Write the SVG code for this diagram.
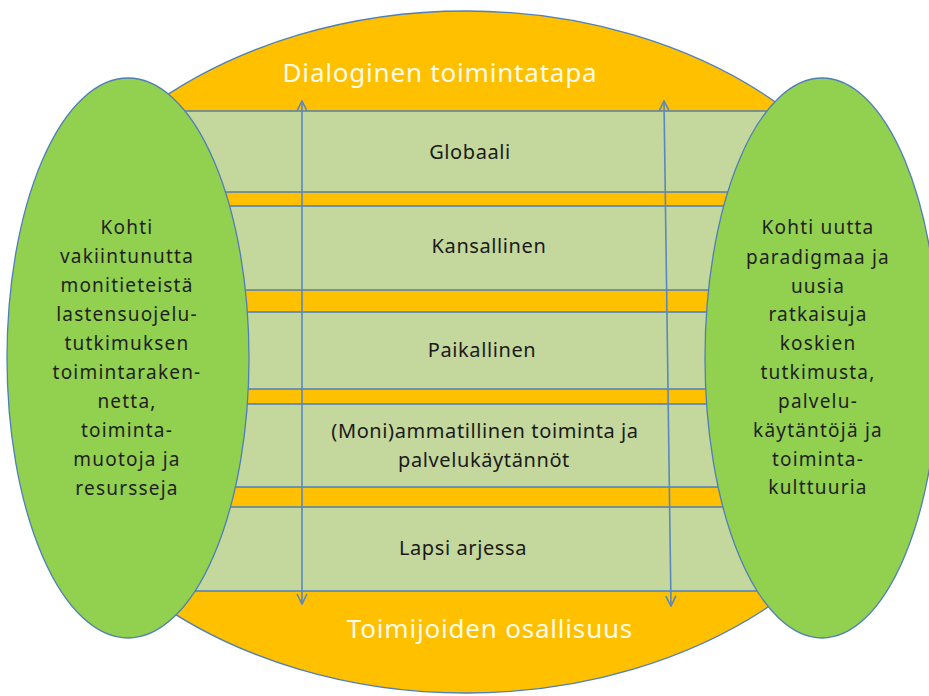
<svg xmlns="http://www.w3.org/2000/svg" width="929" height="696" viewBox="0 0 929 696">
<style>
.outer{fill:#ffc000;stroke:#4f7fb8;stroke-width:1.3}
.band{fill:#c4d79c;stroke:#4f7fb8;stroke-width:1.5}
.side{fill:#92d050;stroke:#4f7fb8;stroke-width:1.3}
.arr{stroke:#5a87bd;stroke-width:1.6;fill:none;marker-start:url(#ah);marker-end:url(#ah)}
.title{font-family:"Noto Sans",sans-serif;font-size:26px;fill:#fffbe8;text-anchor:middle;letter-spacing:0.8px}
.lbl{font-family:"Noto Sans",sans-serif;font-size:20px;fill:#1a1a1a;text-anchor:middle;letter-spacing:0.6px}
.side-t{font-family:"Noto Sans",sans-serif;font-size:19px;fill:#1f1f1f;text-anchor:middle;letter-spacing:1.2px}
</style>
<defs>
<marker id="ah" viewBox="0 0 12 12" refX="11" refY="6" markerWidth="12" markerHeight="12" markerUnits="userSpaceOnUse" orient="auto-start-reverse">
<path d="M1,1 L11,6 L1,11" fill="none" stroke="#5a87bd" stroke-width="1.6"/>
</marker>
</defs>
<rect width="929" height="696" fill="#ffffff"/>
<g id="outer">
<ellipse class="outer" cx="466" cy="352" rx="455" ry="341"/>
</g>
<g id="bands">
<g id="globaali"><rect class="band" x="150" y="111" width="635" height="81"/><text class="lbl" x="470" y="159">Globaali</text></g>
<g id="kansallinen"><rect class="band" x="150" y="206" width="635" height="84"/><text class="lbl" x="489" y="253">Kansallinen</text></g>
<g id="paikallinen"><rect class="band" x="150" y="312" width="635" height="77"/><text class="lbl" x="482" y="357">Paikallinen</text></g>
<g id="moniammatillinen"><rect class="band" x="150" y="404" width="635" height="83"/><text class="lbl" x="485" y="438">(Moni)ammatillinen toiminta ja</text><text class="lbl" x="484" y="467">palvelukäytännöt</text></g>
<g id="lapsi"><rect class="band" x="150" y="507" width="635" height="84"/><text class="lbl" x="463" y="555">Lapsi arjessa</text></g>
</g>
<g id="connectors">
<line class="arr" x1="302" y1="101" x2="302" y2="604"/>
<line class="arr" x1="664" y1="101" x2="671" y2="606"/>
</g>
<g id="titles">
<text class="title" x="440" y="82">Dialoginen toimintatapa</text>
<text class="title" x="490" y="638">Toimijoiden osallisuus</text>
</g>
<g id="left">
<ellipse class="side" cx="128" cy="358" rx="121" ry="280"/>
<text class="side-t" x="127" y="234">Kohti</text>
<text class="side-t" x="127" y="263">vakiintunutta</text>
<text class="side-t" x="127" y="292">monitieteistä</text>
<text class="side-t" x="127" y="321">lastensuojelu-</text>
<text class="side-t" x="127" y="350">tutkimuksen</text>
<text class="side-t" x="127" y="379">toimintaraken-</text>
<text class="side-t" x="127" y="408">netta,</text>
<text class="side-t" x="127" y="437">toiminta-</text>
<text class="side-t" x="127" y="466">muotoja ja</text>
<text class="side-t" x="127" y="495">resursseja</text>
</g>
<g id="right">
<ellipse class="side" cx="822" cy="358" rx="117" ry="280"/>
<text class="side-t" x="818" y="234">Kohti uutta</text>
<text class="side-t" x="818" y="264">paradigmaa ja</text>
<text class="side-t" x="818" y="293">uusia</text>
<text class="side-t" x="818" y="321">ratkaisuja</text>
<text class="side-t" x="818" y="350">koskien</text>
<text class="side-t" x="818" y="379">tutkimusta,</text>
<text class="side-t" x="818" y="408">palvelu-</text>
<text class="side-t" x="818" y="437">käytäntöjä ja</text>
<text class="side-t" x="818" y="466">toiminta-</text>
<text class="side-t" x="818" y="494">kulttuuria</text>
</g>
</svg>
